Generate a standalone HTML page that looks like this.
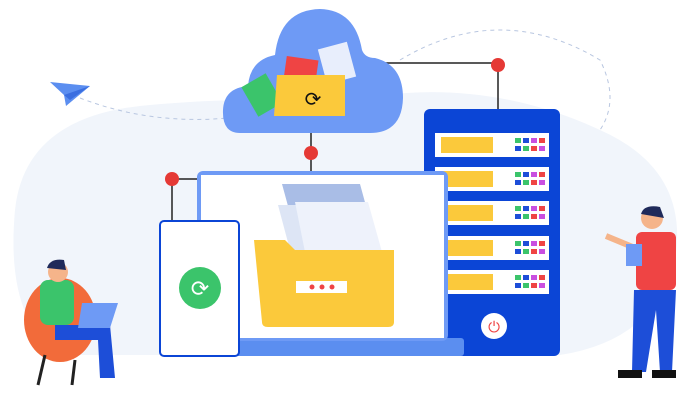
<!DOCTYPE html>
<html><head><style>html,body{margin:0;padding:0;background:#fff}svg{display:block}</style></head>
<body>
<svg width="700" height="400" viewBox="0 0 700 400" xmlns="http://www.w3.org/2000/svg">
<path d="M15 210 Q25 115 150 105 Q260 95 330 105 Q470 70 600 130 Q690 170 675 260 Q655 340 560 355 L60 355 Q5 320 15 210Z" fill="#f1f5fb"/>
<path d="M400 60 Q500 0 600 60 Q620 100 600 130" fill="none" stroke="#b8c6e0" stroke-dasharray="4 4"/>
<path d="M80 98 Q150 125 228 118" fill="none" stroke="#b8c6e0" stroke-dasharray="4 4"/>
<path d="M50 82 L90 86 L66 106 L64 95Z" fill="#5b8ef0"/><path d="M64 95 L90 86 L70 100Z" fill="#3a6ee0"/>
<g stroke="#222" stroke-width="1.5" fill="none">
<path d="M385 63 H498 V109"/><path d="M311 133 V171"/><path d="M172 179 H197"/><path d="M172 179 V221"/>
</g>
<path d="M240 133 Q222 133 223 110 Q224 88 248 86 Q250 60 275 55 Q280 10 320 9 Q355 10 362 50 Q365 58 375 58 Q403 65 403 98 Q402 133 370 133Z" fill="#6e9af5"/>
<g transform="rotate(-30 262 95)"><rect x="248" y="78" width="28" height="34" fill="#3bc46b"/></g>
<rect x="285" y="58" width="32" height="26" fill="#ef4444" transform="rotate(8 300 70)"/>
<rect x="322" y="45" width="30" height="36" fill="#e8eefc" transform="rotate(-15 337 63)"/>
<path d="M277 75 H345 V116 H274Z" fill="#fbc93b"/>
<text x="313" y="106" font-family="DejaVu Sans" font-size="20" text-anchor="middle" fill="#111">⟳</text>
<rect x="424" y="109" width="136" height="247" rx="6" fill="#0b45d6"/>
<g>
<rect x="435" y="133" width="114" height="24" fill="#fff"/><rect x="441" y="137" width="52" height="16" fill="#fbc93b"/>
<rect x="435" y="167" width="114" height="24" fill="#fff"/><rect x="441" y="171" width="52" height="16" fill="#fbc93b"/>
<rect x="435" y="201" width="114" height="24" fill="#fff"/><rect x="441" y="205" width="52" height="16" fill="#fbc93b"/>
<rect x="435" y="236" width="114" height="24" fill="#fff"/><rect x="441" y="240" width="52" height="16" fill="#fbc93b"/>
<rect x="435" y="270" width="114" height="24" fill="#fff"/><rect x="441" y="274" width="52" height="16" fill="#fbc93b"/>
</g>
<g id="leds"><rect x="515" y="138" width="6" height="5" fill="#3bc46b"/><rect x="523" y="138" width="6" height="5" fill="#1d4ed8"/><rect x="531" y="138" width="6" height="5" fill="#c94fe0"/><rect x="539" y="138" width="6" height="5" fill="#ef4444"/><rect x="515" y="146" width="6" height="5" fill="#1d4ed8"/><rect x="523" y="146" width="6" height="5" fill="#3bc46b"/><rect x="531" y="146" width="6" height="5" fill="#ef4444"/><rect x="539" y="146" width="6" height="5" fill="#c94fe0"/></g>
<use href="#leds" y="34"/><use href="#leds" y="68"/><use href="#leds" y="103"/><use href="#leds" y="137"/>
<circle cx="494" cy="326" r="13" fill="#fff"/>
<text x="494" y="332" font-family="DejaVu Sans" font-size="15" text-anchor="middle" fill="#ef4444">⏻</text>
<rect x="230" y="338" width="234" height="18" rx="3" fill="#5b8ef0"/>
<rect x="197" y="171" width="251" height="170" rx="6" fill="#6e9af5"/>
<rect x="201" y="175" width="243" height="163" fill="#fff"/>
<path d="M282 184 H360 L378 250 H300Z" fill="#a9bde6"/>
<path d="M278 205 H360 L375 250 H290Z" fill="#dde5f5"/>
<path d="M295 202 H368 L382 252 H305Z" fill="#eef2fb"/>
<path d="M254 240 H285 L295 250 H394 V322 Q394 327 388 327 H268 Q262 327 262 322Z" fill="#fbc93b"/>
<rect x="296" y="281" width="51" height="12" fill="#fff"/>
<circle cx="312" cy="287" r="2.5" fill="#ef4444"/><circle cx="322" cy="287" r="2.5" fill="#ef4444"/><circle cx="332" cy="287" r="2.5" fill="#ef4444"/>
<rect x="160" y="221" width="79" height="135" rx="4" fill="#fff" stroke="#0b45d6" stroke-width="2"/>
<circle cx="200" cy="288" r="21" fill="#3bc46b"/>
<text x="200" y="296" font-family="DejaVu Sans" font-size="22" text-anchor="middle" fill="#fff">⟳</text>
<circle cx="498" cy="65" r="7" fill="#e53935"/><circle cx="311" cy="153" r="7" fill="#e53935"/><circle cx="172" cy="179" r="7" fill="#e53935"/>
<ellipse cx="60" cy="320" rx="36" ry="42" fill="#f26b3a"/>
<rect x="40" y="280" width="34" height="45" rx="8" fill="#3bc46b"/>
<circle cx="58" cy="272" r="10" fill="#f5b48a"/><path d="M47 268 Q50 258 64 260 L66 270Z" fill="#1f2a5a"/>
<path d="M55 325 H110 L115 378 H100 L98 340 H55Z" fill="#1d4ed8"/>
<path d="M82 303 H118 L110 328 H78Z" fill="#6e9af5"/>
<path d="M45 355 L38 385 M75 360 L72 385" stroke="#222" stroke-width="3"/>
<circle cx="652" cy="218" r="11" fill="#f5b48a"/><path d="M641 214 Q644 204 660 207 L664 218Z" fill="#1f2a5a"/>
<rect x="636" y="232" width="40" height="58" rx="6" fill="#ef4444"/>
<path d="M606 236 L640 250" stroke="#f5b48a" stroke-width="6"/>
<rect x="626" y="244" width="16" height="22" fill="#6e9af5"/>
<path d="M634 290 H676 L672 372 H660 L656 310 L646 372 H632Z" fill="#1d4ed8"/>
<rect x="618" y="370" width="24" height="8" fill="#111"/><rect x="652" y="370" width="24" height="8" fill="#111"/>
</svg>
</body></html>
